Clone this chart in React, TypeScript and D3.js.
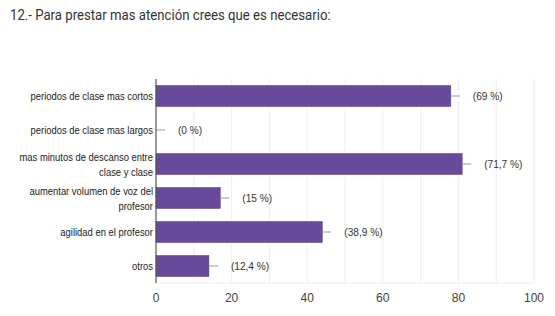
import React from "react";
import * as d3 from "d3";

const title = "12.- Para prestar mas atención crees que es necesario:";
const categories: string[][] = [
  ["periodos de clase mas cortos"],
  ["periodos de clase mas largos"],
  ["mas minutos de descanso entre", "clase y clase"],
  ["aumentar volumen de voz del", "profesor"],
  ["agilidad en el profesor"],
  ["otros"],
];
const counts = [78, 0, 81, 17, 44, 14];
const percentLabels = ["(69 %)", "(0 %)", "(71,7 %)", "(15 %)", "(38,9 %)", "(12,4 %)"];
const xTicks = [0, 20, 40, 60, 80, 100];
const gridValues = [10, 20, 30, 40, 50, 60, 70, 80, 90, 100];

const W = 555;
const H = 316;
const left = 156;
const right = 534;
const top = 79;
const bottom = 283;

export default function App() {
  const x = d3.scaleLinear().domain([0, 100]).range([left, right]);
  const y = d3
    .scaleBand<number>()
    .domain(counts.map((_, i) => i))
    .range([top, bottom])
    .paddingInner(0.38)
    .paddingOuter(0.19);
  const bw = y.bandwidth();
  const font = "'Liberation Sans', Arial, sans-serif";

  return (
    <svg
      width={W}
      height={H}
      style={{ position: "absolute", left: 0, top: 0, background: "#fff" }}
    >
      <text
        transform="translate(10,20) scale(0.88,1)"
        fontFamily="Roboto, sans-serif"
        fontSize={15}
        fill="#333"
      >
        {title}
      </text>
      {gridValues.map((v) => (
        <line key={v} x1={x(v)} x2={x(v)} y1={top} y2={bottom} stroke="#eeeeee" strokeWidth={1} />
      ))}
      <line x1={left} x2={right} y1={bottom} y2={bottom} stroke="#eeeeee" />
      {counts.map((c, i) => {
        const yc = (y(i) as number) + bw / 2;
        const xe = x(c);
        const n = categories[i].length;
        return (
          <g key={i}>
            {c > 0 && (
              <rect x={x(0)} y={y(i)} width={xe - x(0)} height={bw} fill="#674a9b" stroke="#5a3e8c" strokeWidth={0.5} />
            )}
            <line x1={xe} x2={xe + 9} y1={yc} y2={yc} stroke="#999" strokeWidth={1} />
            <text
              transform={`translate(${xe + 22},${yc + 4}) scale(0.88,1)`}
              fontFamily={font}
              fontSize={11.5}
              fill="#333"
            >
              {percentLabels[i]}
            </text>
            <g transform={`translate(${left - 3},${yc + 4}) scale(0.82,1)`}>
              <text textAnchor="end" fontFamily={font} fontSize={11.5} fill="#222">
                {categories[i].map((line, k) => (
                  <tspan key={k} x={0} y={-(n - 1) * 7.5 + k * 15}>
                    {line}
                  </tspan>
                ))}
              </text>
            </g>
          </g>
        );
      })}
      <line x1={left} x2={left} y1={top} y2={bottom} stroke="#555" strokeWidth={1.2} />
      {xTicks.map((t) => (
        <text key={t} x={x(t)} y={302} textAnchor="middle" fontFamily={font} fontSize={12} fill="#444">
          {t}
        </text>
      ))}
    </svg>
  );
}
